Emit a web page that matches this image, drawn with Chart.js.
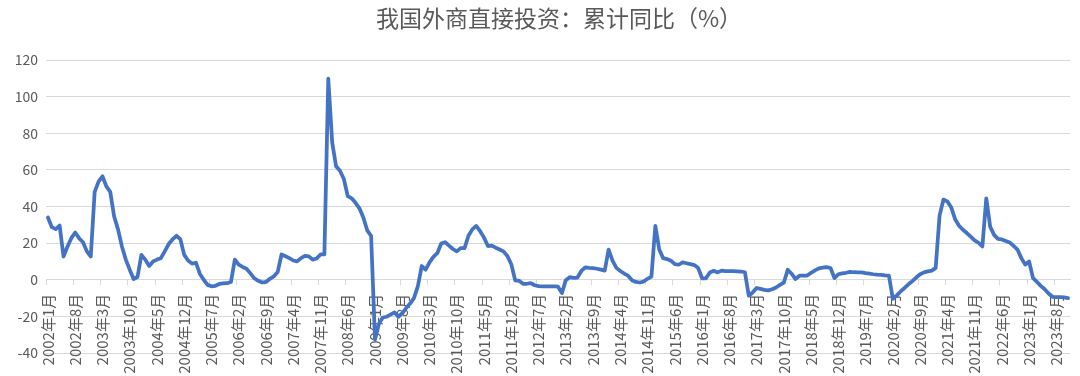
<!DOCTYPE html>
<html>
<head>
<meta charset="utf-8">
<script src="https://cdn.jsdelivr.net/npm/chart.js@4.4.0/dist/chart.umd.min.js"></script>
<style>
  html, body { margin: 0; padding: 0; background: #ffffff; }
  #wrap { width: 1080px; height: 376px; position: relative; }
</style>
</head>
<body>
<div id="wrap"><canvas id="c" width="1080" height="376"></canvas></div>
<script>
// ---- data ----
const titleText = '我国外商直接投资：累计同比（%）';
const startYear = 2002;
const startMonth = 1;
// cumulative YoY (%), monthly from 2002-01 to 2023-11
const fdiYoY = [
  // 2002
  34, 28.7, 27.6, 29.6, 12.7, 18, 22.7, 25.8, 22.7, 20.5, 15.5, 12.7,
  // 2003
  48, 53.6, 56.5, 51, 48, 34.5, 27.5, 18.2, 11, 5.5, 0.4, 1.5,
  // 2004
  13.6, 11, 7.5, 10, 11, 11.8, 15.5, 19.5, 22, 24, 22.2, 13.6,
  // 2005
  10.5, 8.8, 9.3, 3.3, 0, -2.8, -3.6, -3.3, -2.3, -2, -1.9, -1.2,
  // 2006
  11, 8.2, 7, 6, 3.5, 0.8, -0.6, -1.5, -1.2, 0.5, 1.8, 4.2,
  // 2007
  13.8, 12.8, 11.8, 10.5, 10, 11.8, 13, 12.8, 11, 11.6, 13.8, 13.8,
  // 2008
  109.8, 75, 62, 59.5, 55, 45.7, 44.5, 42, 39, 34, 27, 24,
  // 2009
  -32.7, -24, -20.6, -20.2, -19, -17.8, -20.2, -18.3, -15.5, -13, -10, -3.6,
  // 2010
  7.5, 5.5, 9.5, 12.5, 14.5, 19.8, 20.5, 18.6, 16.8, 15.5, 17.3, 17.3,
  // 2011
  24, 27.5, 29.4, 26.5, 23, 18.4, 18.6, 17.5, 16.5, 15.5, 13, 8.5,
  // 2012
  -0.3, -0.6, -2.2, -2.2, -1.8, -3, -3.5, -3.6, -3.6, -3.6, -3.6, -3.8,
  // 2013
  -7.3, -0.3, 1.4, 1.0, 1.2, 4.8, 6.8, 6.5, 6.3, 6.0, 5.5, 5.0,
  // 2014
  16.4, 10.5, 6.5, 4.8, 3.4, 2.2, -0.3, -1.2, -1.5, -1.0, 0.5, 1.7,
  // 2015
  29.4, 16.5, 11.8, 11.3, 10.4, 8.5, 8.2, 9.5, 9.0, 8.5, 8.0, 6.4,
  // 2016
  0.8, 0.8, 4, 4.9, 4.0, 5.0, 4.7, 4.7, 4.7, 4.6, 4.5, 4.1,
  // 2017
  -8.7, -7, -4.5, -5, -5.5, -5.8, -5.2, -4.2, -2.8, -1.6, 5.5, 3.3,
  // 2018
  0.4, 2.2, 2.2, 2.3, 3.8, 5.1, 6.2, 6.6, 6.9, 6.4, 0.9, 3.0,
  // 2019
  3.5, 3.8, 4.3, 4.1, 4.0, 4.0, 3.6, 3.3, 3.0, 2.8, 2.7, 2.4,
  // 2020
  2.2, -10.5, -8.5, -6.4, -4.5, -2.5, -0.8, 1.2, 3.0, 4.0, 4.6, 5.0,
  // 2021
  6.5, 35, 43.8, 42.8, 39.5, 33, 29.5, 27.3, 25.5, 23.5, 21.5, 20.2,
  // 2022
  18.2, 44.5, 29, 24.5, 22.3, 22, 21.2, 20.4, 18.5, 16.5, 11.8, 8.3,
  // 2023
  10, 0.9, -1.2, -3.3, -5.2, -7.5, -9.3, -9.5, -9.5, -9.6, -10
];
const months = [];
for (let k = 0; k < fdiYoY.length; k++) {
  const y = startYear + Math.floor((startMonth - 1 + k) / 12);
  const m = (startMonth - 1 + k) % 12 + 1;
  months.push(y + '年' + m + '月');
}
const labelEvery = 7;
const yMin = -40, yMax = 120, yStep = 20;

// ---- style ----
const gray = '#595959';
const gridGray = '#d9d9d9';
const fontFam = '"Noto Sans CJK SC", "Noto Sans", sans-serif';

const titlePlugin = {
  id: 'excelTitle',
  afterDraw(chart) {
    const ctx = chart.ctx;
    ctx.save();
    ctx.font = '23px ' + fontFam;
    ctx.fillStyle = gray;
    ctx.textAlign = 'center';
    ctx.textBaseline = 'middle';
    ctx.fillText(titleText, 559, 18);
    ctx.restore();
  }
};

new Chart(document.getElementById('c').getContext('2d'), {
  type: 'line',
  data: {
    labels: months,
    datasets: [{
      data: fdiYoY,
      borderColor: '#4472C4',
      backgroundColor: '#4472C4',
      borderWidth: 3.75,
      pointRadius: 0,
      pointHoverRadius: 0,
      tension: 0,
      fill: false,
      borderJoinStyle: 'round',
      borderCapStyle: 'round'
    }]
  },
  plugins: [titlePlugin],
  options: {
    responsive: false,
    devicePixelRatio: 1,
    animation: false,
    layout: { padding: { left: 0, right: 10, top: 60, bottom: 23 } },
    plugins: {
      legend: { display: false },
      tooltip: { enabled: false },
      title: { display: false }
    },
    scales: {
      x: {
        type: 'category',
        position: { y: 0 },
        offset: true,
        grid: {
          offset: true,
          drawOnChartArea: false,
          drawTicks: true,
          tickLength: 5,
          lineWidth: 1,
          color: (c) => (c.index % labelEvery === 0 ? gridGray : 'rgba(0,0,0,0)')
        },
        border: { display: true, color: gridGray, width: 1 },
        ticks: {
          autoSkip: false,
          minRotation: 90,
          maxRotation: 90,
          padding: 9,
          color: gray,
          font: { size: 15, family: fontFam },
          callback: (v, i) => (i % labelEvery === 0 ? months[i] : '')
        },
        afterFit: (s) => { s.paddingLeft = 0; s.paddingRight = 0; }
      },
      y: {
        min: yMin,
        max: yMax,
        ticks: { stepSize: yStep, color: gray, padding: 8, font: { size: 14, family: fontFam } },
        grid: { color: gridGray, lineWidth: 1, drawTicks: false },
        border: { display: false },
        afterFit: (s) => { s.width = 46; }
      }
    }
  }
});
</script>
</body>
</html>
